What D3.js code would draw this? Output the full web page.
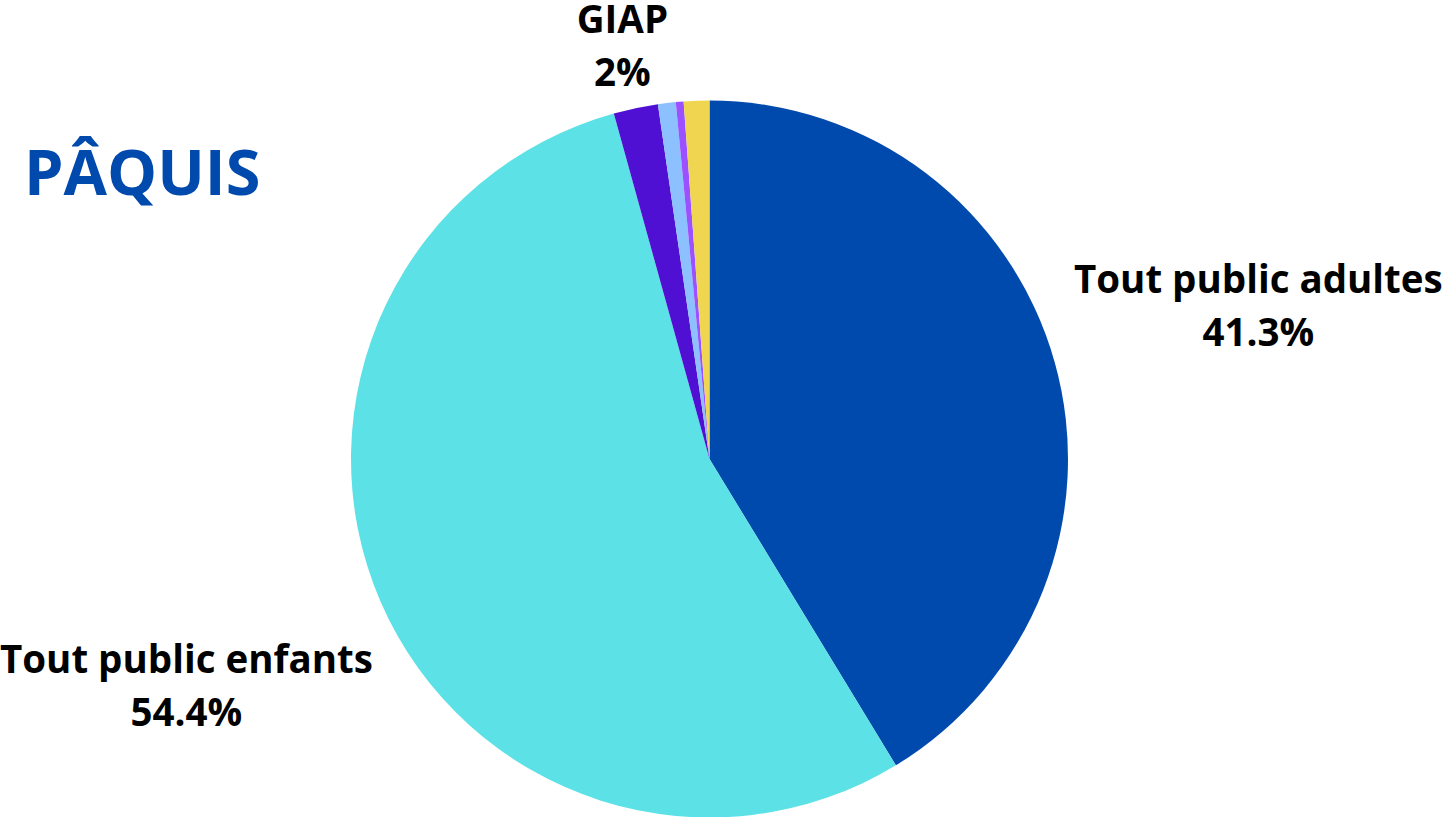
<!DOCTYPE html>
<html>
<head>
<meta charset="utf-8">
<script src="https://cdn.jsdelivr.net/npm/d3@7"></script>
<style>
  body { margin: 0; background: #fff; }
  svg { display: block; }
</style>
</head>
<body>
<svg width="1446" height="817"></svg>
<script>
var svg = d3.select("svg"),
    width = +svg.attr("width"),
    height = +svg.attr("height");

// data, clockwise from 12 o'clock
var categories = ["Tout public adultes", "Tout public enfants", "GIAP", "Autre 1", "Autre 2", "Autre 3"];
var values = [41.3, 54.4, 2, 0.8, 0.35, 1.15];
var colors = ["#004aad", "#5ce1e6", "#5010d3", "#8cc0ff", "#9b51ff", "#f0d551"];
var labelled = { "Tout public adultes": "41.3%", "Tout public enfants": "54.4%", "GIAP": "2%" };

var cx = 709.5, cy = 459, radius = 358.5;

var pie = d3.pie().sort(null).value(function (d) { return d.value; });
var arc = d3.arc().innerRadius(0).outerRadius(radius);

var data = categories.map(function (c, i) { return { name: c, value: values[i], color: colors[i] }; });
var arcs = pie(data);

var g = svg.append("g").attr("transform", "translate(" + cx + "," + cy + ")");

g.selectAll("path")
    .data(arcs)
    .enter().append("path")
    .attr("d", arc)
    .attr("fill", function (d) { return d.data.color; });

// label distance from centre
function labelRadius(d) { return d.data.value < 5 ? 423 : 570; }

var labels = g.selectAll("text.lbl")
    .data(arcs.filter(function (d) { return labelled[d.data.name]; }))
    .enter().append("text")
    .attr("class", "lbl")
    .attr("font-family", "'Open Sans', sans-serif")
    .attr("font-weight", 700)
    .attr("font-size", 38.5)
    .attr("text-anchor", "middle")
    .attr("fill", "#000")
    .attr("transform", function (d) {
        var r = labelRadius(d);
        var p = d3.arc().innerRadius(r).outerRadius(r).centroid(d);
        return "translate(" + p[0] + "," + p[1] + ")";
    });

labels.append("tspan").attr("x", 0).attr("y", -12).text(function (d) { return d.data.name; });
labels.append("tspan").attr("x", 0).attr("y", 41).text(function (d) { return labelled[d.data.name]; });

svg.append("text")
    .attr("x", 24)
    .attr("y", 195)
    .attr("font-family", "'Open Sans', sans-serif")
    .attr("font-weight", 700)
    .attr("font-size", 63)
    .attr("fill", "#004aad")
    .text("PÂQUIS");
</script>
</body>
</html>
